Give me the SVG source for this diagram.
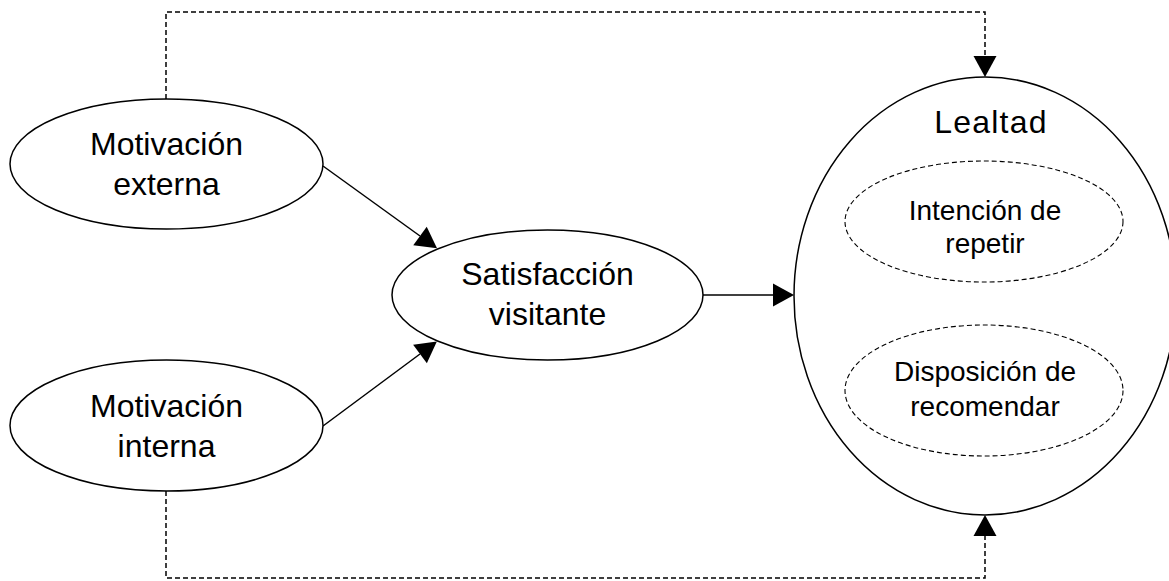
<svg xmlns="http://www.w3.org/2000/svg" width="1169" height="581" viewBox="0 0 1169 581">
<style>
.node{fill:#fff;stroke:#000;stroke-width:1.5}
.sub{fill:none;stroke:#000;stroke-width:1.1;stroke-dasharray:5 3}
.t{font-family:"Liberation Sans",Arial,sans-serif;font-size:32px;fill:#000;text-anchor:middle}
.ts{font-family:"Liberation Sans",Arial,sans-serif;font-size:28px;fill:#000;text-anchor:middle}
.c{fill:none;stroke:#000;stroke-width:1.5}
.d{fill:none;stroke:#000;stroke-width:1.5;stroke-dasharray:5 3}
</style>
<defs>
<marker id="ah" markerUnits="userSpaceOnUse" markerWidth="22" markerHeight="24" refX="0" refY="11.5" orient="auto" overflow="visible">
<path d="M0,0 L21,11.5 L0,23 z" fill="#000"/>
</marker>
</defs>
<g id="connectors">
<path class="d" d="M166,99 V12 H985 V56" marker-end="url(#ah)"/>
<path class="d" d="M166,491 V578 H985 V536" marker-end="url(#ah)"/>
<path class="c" d="M323,166 L420,236" marker-end="url(#ah)"/>
<path class="c" d="M323,426 L420,354" marker-end="url(#ah)"/>
<path class="c" d="M703,295 L773,295" marker-end="url(#ah)"/>
</g>
<g id="motivacion-externa">
<ellipse class="node" cx="166.5" cy="164" rx="156.5" ry="65"/>
<text class="t" x="166.5" y="155">Motivación</text>
<text class="t" x="166.5" y="195">externa</text>
</g>
<g id="motivacion-interna">
<ellipse class="node" cx="166.5" cy="425.5" rx="156.5" ry="65.5"/>
<text class="t" x="166.5" y="416.5">Motivación</text>
<text class="t" x="166.5" y="456.5">interna</text>
</g>
<g id="satisfaccion">
<ellipse class="node" cx="547.5" cy="295" rx="155.5" ry="65"/>
<text class="t" x="547.5" y="285">Satisfacción</text>
<text class="t" x="547.5" y="325">visitante</text>
</g>
<g id="lealtad">
<ellipse class="node" cx="985" cy="296" rx="191" ry="219"/>
<text class="t" x="991" y="133" letter-spacing="1.2">Lealtad</text>
<g id="intencion">
<ellipse class="sub" cx="984" cy="221.5" rx="139" ry="60.5"/>
<text class="ts" x="985" y="220">Intención de</text>
<text class="ts" x="985" y="253">repetir</text>
</g>
<g id="disposicion">
<ellipse class="sub" cx="984" cy="390.5" rx="139" ry="65.5"/>
<text class="ts" x="985" y="381">Disposición de</text>
<text class="ts" x="985" y="416">recomendar</text>
</g>
</g>
</svg>
